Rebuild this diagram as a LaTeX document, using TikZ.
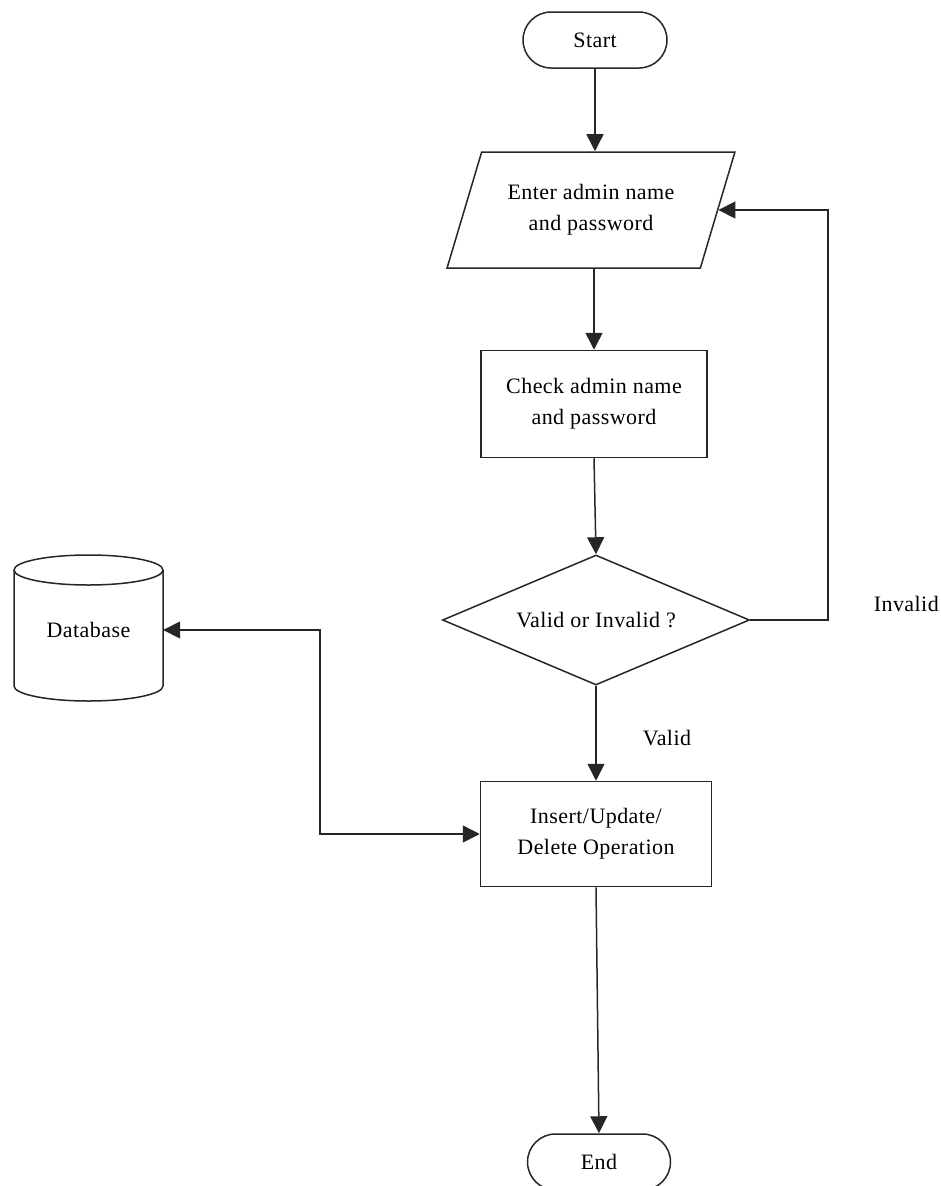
\documentclass[tikz,border=0pt]{standalone}
\usepackage{fontspec}
\setmainfont[LetterSpace=2]{Liberation Serif}
\usetikzlibrary{shapes.geometric,arrows.meta}

\tikzset{
  line/.style={draw=black!85, line width=1.5pt},
  flow/.style={line, -{Triangle[length=17pt,width=17pt]}},
  both/.style={line, {Triangle[length=17pt,width=17pt]}-{Triangle[length=17pt,width=17pt]}},
  txt/.style={font=\fontsize{22}{31}\selectfont, align=center},
  terminal/.style={txt, draw=black!85, line width=1.5pt, rectangle,
    rounded corners=28pt, minimum width=144pt, minimum height=56pt, inner sep=0pt},
  io/.style={txt, draw=black!85, line width=1.5pt, trapezium,
    trapezium left angle=62.6, trapezium right angle=117.4,
    trapezium stretches=true, minimum width=288pt, minimum height=116pt, inner sep=0pt},
  process/.style={txt, draw=black!85, line width=1.5pt, rectangle,
    minimum width=226pt, minimum height=107pt, inner sep=0pt},
  decision/.style={draw=black!85, line width=1.5pt, diamond,
    minimum width=307pt, minimum height=130pt, inner sep=0pt},
  lbl/.style={txt}
}

\begin{document}
\begin{tikzpicture}[x=1pt, y=-1pt]
\useasboundingbox (0,0) rectangle (941,1186);

% main chain
\node[terminal] (start) at (595,40) {Start};
\node[io] (input) at (591,210) {Enter admin name\\and password};
\node[process] (check) at (594,404) {Check admin name\\and password};
\node[decision, label={[txt]center:Valid or Invalid ?}] (dec) at (596,620) {};
\node[process, minimum width=231pt, minimum height=105pt] (ops) at (596,834) {Insert/Update/\\Delete Operation};
\node[terminal, minimum width=143pt] (end) at (599,1162) {End};

% database cylinder
\draw[line, fill=white] (14,570) -- (14,686) arc[start angle=180, end angle=360, x radius=74.5pt, y radius=15pt] -- (163,570);
\draw[line] (88.5,570) ellipse[x radius=74.5pt, y radius=15pt];
\node[txt, minimum width=149pt, inner sep=0pt] (db) at (88.5,630) {Database};

% turning points
\coordinate (back) at (828,620);
\coordinate (jog) at (320,630);

% connectors
\draw[flow] (start.south) -- (start.south |- input.north);
\draw[flow] (check.north |- input.south) -- (check.north);
\draw[flow] (check.south) -- (dec.north);
\draw[flow] (dec.south) -- (ops.north);
\draw[flow] (dec.east) -- (back) |- (input.east);
\draw[both] (db.east) -- (jog) |- (ops.west);
\draw[flow] (ops.south) -- (end.north);

% branch labels
\node[lbl] (valid) at (667,738) {Valid};
\node[lbl, anchor=east, inner sep=0pt] (invalid) at (939,604) {Invalid};
\end{tikzpicture}
\end{document}
